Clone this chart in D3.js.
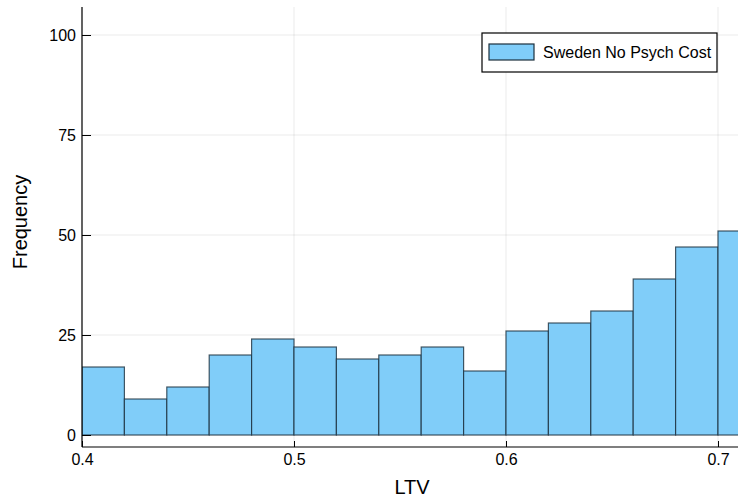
<!DOCTYPE html>
<html>
<head>
<meta charset="utf-8">
<script src="https://cdn.jsdelivr.net/npm/d3@7.9.0/dist/d3.min.js"></script>
<style>
  body { margin: 0; background: #fff; }
  text { font-family: "Liberation Sans", Arial, sans-serif; fill: #000; }
</style>
</head>
<body>
<svg id="chart" width="738" height="497"></svg>
<script>
// histogram bins (left edge) and counts
const binStarts = [0.40, 0.42, 0.44, 0.46, 0.48, 0.50, 0.52, 0.54, 0.56, 0.58, 0.60, 0.62, 0.64, 0.66, 0.68, 0.70];
const counts = [17, 9, 12, 20, 24, 22, 19, 20, 22, 16, 26, 28, 31, 39, 47, 51];
const binWidth = 0.02;
const xTicks = [0.4, 0.5, 0.6, 0.7];
const yTicks = [0, 25, 50, 75, 100];
const seriesName = 'Sweden No Psych Cost';

const svg = d3.select('#chart');
const plotL = 82, plotR = 738, plotT = 7, plotB = 447;

const x = d3.scaleLinear().domain([0.4, 0.4 + 656 / 2120]).range([plotL, plotR]);
const y = d3.scaleLinear().domain([-3, 107]).range([plotB, plotT]);

// grid
svg.append('g').selectAll('line').data(xTicks).join('line')
  .attr('x1', d => x(d)).attr('x2', d => x(d))
  .attr('y1', plotT).attr('y2', plotB)
  .attr('stroke', '#000').attr('stroke-opacity', 0.1).attr('stroke-width', 0.8);
svg.append('g').selectAll('line').data(yTicks).join('line')
  .attr('x1', plotL).attr('x2', plotR)
  .attr('y1', d => y(d)).attr('y2', d => y(d))
  .attr('stroke', '#000').attr('stroke-opacity', 0.1).attr('stroke-width', 0.8);

// bars
svg.append('clipPath').attr('id', 'plotclip')
  .append('rect').attr('x', plotL).attr('y', plotT).attr('width', plotR - plotL).attr('height', plotB - plotT);

svg.append('g').attr('clip-path', 'url(#plotclip)')
  .selectAll('rect').data(binStarts).join('rect')
  .attr('x', d => x(d))
  .attr('width', d => x(d + binWidth) - x(d))
  .attr('y', (d, i) => y(counts[i]))
  .attr('height', (d, i) => y(0) - y(counts[i]))
  .attr('fill', '#80cdf9')
  .attr('stroke', '#1b2f3d')
  .attr('stroke-opacity', 0.8)
  .attr('stroke-width', 1.2);

// axes
const xAxis = svg.append('g').attr('transform', `translate(0,${plotB})`)
  .call(d3.axisBottom(x).tickValues(xTicks).tickSize(-6).tickPadding(7).tickFormat(d3.format('')));
const yAxis = svg.append('g').attr('transform', `translate(${plotL},0)`)
  .call(d3.axisLeft(y).tickValues(yTicks).tickSize(-9).tickPadding(6));

[xAxis, yAxis].forEach(a => {
  a.select('.domain').attr('stroke', '#000').attr('stroke-width', 1.2);
  a.selectAll('.tick line').attr('stroke', '#000').attr('stroke-width', 1);
  a.selectAll('.tick text').attr('font-size', 16).attr('fill', '#000');
});
xAxis.select('.domain').attr('d', `M${plotL},0H${plotR}`);
yAxis.select('.domain').attr('d', `M0,${plotT}V${plotB}`);

// axis labels
svg.append('text').attr('x', 412).attr('y', 494)
  .attr('text-anchor', 'middle').attr('font-size', 20).text('LTV');
svg.append('text').attr('transform', 'translate(27,222) rotate(-90)')
  .attr('text-anchor', 'middle').attr('font-size', 20).text('Frequency');

// legend
const lg = svg.append('g');
lg.append('rect').attr('x', 482).attr('y', 33).attr('width', 235).attr('height', 39)
  .attr('fill', '#fff').attr('stroke', '#000').attr('stroke-width', 1.2);
lg.append('rect').attr('x', 489).attr('y', 44).attr('width', 45).attr('height', 16)
  .attr('fill', '#80cdf9').attr('stroke', '#1b2f3d').attr('stroke-width', 1.2);
lg.append('text').attr('x', 543).attr('y', 58).attr('font-size', 16).text(seriesName);
</script>
</body>
</html>
